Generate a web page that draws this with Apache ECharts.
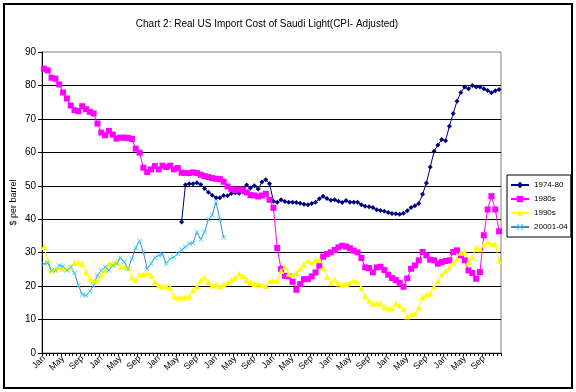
<!DOCTYPE html>
<html><head><meta charset="utf-8">
<script src="https://cdn.jsdelivr.net/npm/echarts@6.0.0/dist/echarts.min.js"></script>
<style>html,body{margin:0;padding:0;background:#fff}#c{width:576px;height:392px}</style>
</head><body><div id="c"></div>
<script>
// Month slots on the category axis (a decade of months)
const tickLabels = ['Jan', 'May', 'Sep'];
const categories = Array.from({length: 120}, (_, i) => (i % 5 === 0 ? tickLabels[(i / 5) % 3] : ''));

// 1974-80 series starts at slot 36
const start1974 = 36;
const s1974 = [39.2,50.3,50.6,50.6,50.9,50.4,49.2,48.1,47.2,46.4,
  46.4,47.1,47.0,47.7,47.9,47.7,48.2,50.2,49.3,50.0,
  49.0,51.1,51.8,50.6,45.4,45.1,45.8,45.3,45.1,45.1,
  45.0,44.8,44.5,44.3,44.7,45.1,46.1,46.9,46.2,45.7,
  45.8,45.4,45.0,45.6,45.1,45.1,45.1,44.3,43.9,43.7,
  43.5,42.8,42.6,42.4,42.0,41.7,41.6,41.5,41.8,42.5,
  43.5,44.0,44.7,47.5,50.8,55.6,60.3,62.2,63.8,63.5,
  67.8,71.6,75.3,77.9,79.5,79.0,80.0,79.5,79.5,79.0,
  78.5,77.8,78.4,78.8];

const s1980s = [85.0,84.5,82.3,82.0,80.3,77.9,76.1,74.0,72.6,72.3,
  73.8,72.9,72.1,71.6,68.6,65.9,65.1,66.4,65.3,64.1,
  64.4,64.4,64.3,64.0,61.1,59.9,55.4,54.1,54.9,55.9,
  54.9,56.0,55.6,56.0,54.9,55.3,53.9,53.8,53.8,54.0,
  53.8,53.3,52.9,52.6,52.3,52.1,52.0,51.2,49.8,49.0,
  48.7,48.9,48.8,48.0,47.2,47.1,46.8,47.1,47.6,45.8,
  43.4,31.4,25.1,23.1,22.9,21.3,18.9,20.6,22.1,22.1,
  22.9,24.1,26.1,28.8,29.6,30.1,30.8,31.6,32.1,31.8,
  31.3,30.6,30.1,28.4,25.6,25.4,24.1,25.6,25.8,24.8,
  23.4,22.4,21.8,21.0,19.8,22.3,25.2,26.2,27.7,30.2,
  29.2,27.9,27.7,26.7,27.2,27.5,27.7,30.2,30.7,29.2,
  27.7,24.7,23.9,22.2,24.2,35.2,42.9,46.9,42.9,36.4];

const s1990s = [31.7,27.7,24.7,25.2,25.7,25.2,25.2,25.7,26.9,27.2,
  26.7,24.2,22.2,21.7,21.9,23.5,24.7,26.7,26.7,27.2,
  25.7,25.7,25.5,22.5,21.9,23.5,23.5,23.9,23.2,21.2,
  20.2,19.9,19.9,19.5,16.9,16.5,16.6,16.7,16.9,18.7,
  19.9,21.7,22.5,21.2,20.2,20.5,19.9,20.5,21.0,21.9,
  22.5,23.7,23.0,21.8,21.0,20.6,20.7,20.3,20.0,21.5,
  21.6,21.7,24.5,25.7,23.7,23.4,23.9,25.2,26.5,27.6,
  27.0,27.9,27.7,25.5,22.8,21.0,22.0,20.8,20.4,20.6,
  21.0,21.6,21.3,19.4,17.0,15.6,14.7,14.9,14.8,13.7,
  13.3,13.4,14.8,14.2,13.1,10.9,11.6,11.7,13.6,16.6,
  17.4,17.8,19.9,21.5,23.5,24.5,25.6,27.0,28.2,30.0,
  30.2,27.2,28.6,31.5,31.0,32.4,33.1,32.7,32.5,27.5];

const s2001 = [26.7,26.9,24.7,24.7,26.2,25.9,24.7,25.7,23.9,20.2,
  17.5,17.2,18.5,20.2,23.2,24.7,25.7,24.7,26.2,26.7,
  28.5,27.2,25.2,28.2,31.5,33.5,30.2,25.2,26.7,28.5,
  29.2,29.5,26.7,28.2,28.7,29.7,30.9,31.7,32.7,32.9,
  36.2,33.9,36.2,39.9,41.2,45.1,39.9,34.5];

const yTicks = {min: 0, max: 90, step: 10};

const FONT = '"Liberation Sans", Arial, sans-serif';
const xSym = 'path://M0,1L1,0L5,4L9,0L10,1L6,5L10,9L9,10L5,6L1,10L0,9L4,5Z';

const chart = echarts.init(document.getElementById('c'), null, {renderer: 'canvas'});
chart.setOption({
  animation: false,
  backgroundColor: '#fff',
  textStyle: {fontFamily: FONT},
  title: {
    text: 'Chart 2: Real US Import Cost of Saudi Light(CPI- Adjusted)',
    left: 262, top: 14, textAlign: 'center',
    textStyle: {fontFamily: FONT, fontSize: 10, fontWeight: 'normal', color: '#000'}
  },
  graphic: [{
    type: 'rect', silent: true, z: -1,
    shape: {x: 4, y: 4, width: 568, height: 384},
    style: {fill: null, stroke: '#000', lineWidth: 2}
  }],
  legend: {
    orient: 'vertical', left: 507, top: 175,
    data: ['1974-80', '1980s', '1990s', '20001-04'],
    itemWidth: 18, itemHeight: 8, itemGap: 6,
    padding: [6, 3, 6, 3],
    borderColor: '#000', borderWidth: 1, borderRadius: 0,
    textStyle: {fontFamily: FONT, fontSize: 8, color: '#000'}
  },
  grid: {left: 42, right: 75, top: 52, bottom: 39, show: true, borderColor: '#808080', borderWidth: 1,
    containLabel: false, outerBoundsMode: 'none'},
  xAxis: {
    type: 'category', data: categories, boundaryGap: true,
    axisLine: {lineStyle: {color: '#000', width: 1}},
    axisTick: {show: true, interval: 0, length: 3, lineStyle: {color: '#000'}},
    axisLabel: {interval: 4, rotate: 45, fontSize: 9, color: '#000', margin: 4, fontFamily: FONT},
    splitLine: {show: false}
  },
  yAxis: {
    type: 'value', min: yTicks.min, max: yTicks.max, interval: yTicks.step,
    name: '$ per barrel', nameLocation: 'middle', nameGap: 24, nameRotate: 90,
    nameMoveOverlap: false,
    nameTextStyle: {fontFamily: FONT, fontSize: 9, color: '#000'},
    axisLine: {show: true, lineStyle: {color: '#000', width: 1}},
    axisTick: {show: true, length: 4, lineStyle: {color: '#000'}},
    axisLabel: {fontSize: 10, color: '#000', margin: 6, fontFamily: FONT},
    splitLine: {show: true, showMaxLine: false, lineStyle: {color: '#000', width: 1}}
  },
  series: [
    {name: '1974-80', type: 'line', data: new Array(start1974).fill(null).concat(s1974),
      symbol: 'diamond', symbolSize: 5, showAllSymbol: true,
      lineStyle: {color: '#000080', width: 1}, itemStyle: {color: '#000080'}},
    {name: '1980s', type: 'line', data: s1980s,
      symbol: 'rect', symbolSize: 6, showAllSymbol: true,
      lineStyle: {color: '#ff00ff', width: 1}, itemStyle: {color: '#ff00ff'}},
    {name: '1990s', type: 'line', data: s1990s,
      symbol: 'triangle', symbolSize: 6, showAllSymbol: true,
      lineStyle: {color: '#ffff00', width: 1}, itemStyle: {color: '#ffff00'}},
    {name: '20001-04', type: 'line', data: s2001,
      symbol: xSym, symbolSize: 5, showAllSymbol: true,
      lineStyle: {color: '#3f86d0', width: 1}, itemStyle: {color: '#33ccff'}}
  ]
});
</script></body></html>
